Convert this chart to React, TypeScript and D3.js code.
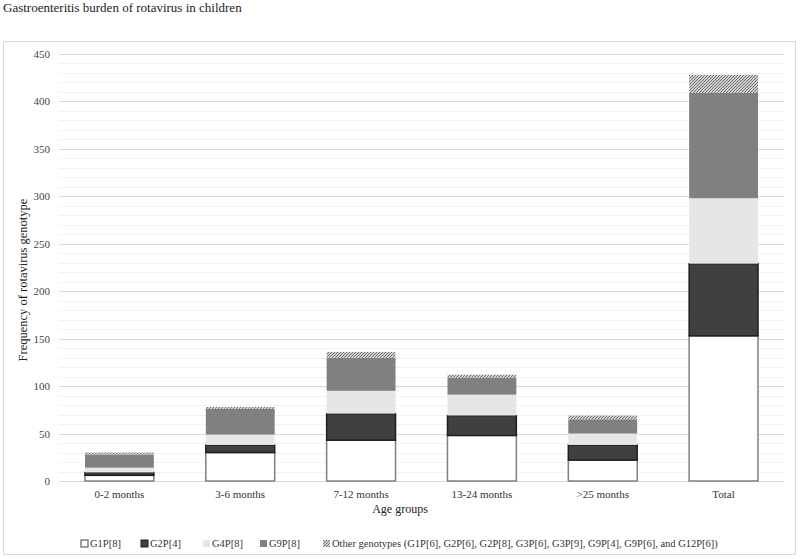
import React, { useEffect, useRef } from 'react';
import * as d3 from 'd3';

const categories = ['0-2 months', '3-6 months', '7-12 months', '13-24 months', '>25 months', 'Total'];
const g1p8 = [6, 30, 43, 48, 22, 153];
const g2p4 = [3, 8, 28, 21, 16, 76];
const g4p8 = [5, 11, 24, 22, 12, 69];
const g9p8 = [14, 27, 35, 18, 15, 111];
const other = [2, 2, 6, 3, 4, 19];
const seriesNames = ['G1P[8]', 'G2P[4]', 'G4P[8]', 'G9P[8]', 'Other genotypes (G1P[6], G2P[6], G2P[8], G3P[6], G3P[9], G9P[4], G9P[6], and G12P[6])'];
const yTicks = [0, 50, 100, 150, 200, 250, 300, 350, 400, 450];

const fills = ['#ffffff', '#404040', '#e6e6e6', '#808080', 'url(#hatch)'];
const strokes = ['#7f7f7f', '#1f1f1f', 'none', 'none', 'none'];
const FONT = '"Liberation Serif", "Times New Roman", serif';

const App: React.FC = () => {
  const svgRef = useRef<SVGSVGElement>(null);

  useEffect(() => {
    if (!svgRef.current) return;
    const svg = d3.select(svgRef.current);
    svg.selectAll('*').remove();

    const margin = { top: 54, right: 16, bottom: 78, left: 59 };
    const width = 800, height = 559;

    const defs = svg.append('defs');
    const pat = defs.append('pattern')
      .attr('id', 'hatch').attr('patternUnits', 'userSpaceOnUse')
      .attr('width', 3).attr('height', 3);
    pat.append('rect').attr('width', 3).attr('height', 3).attr('fill', '#ffffff');
    pat.append('path').attr('d', 'M0,3 L3,0 M-1,1 L1,-1 M2,4 L4,2')
      .attr('stroke', '#6a6a6a').attr('stroke-width', 1.2);

    svg.append('text').attr('x', 3).attr('y', 12)
      .attr('font-family', FONT).attr('font-size', 13).attr('fill', '#222')
      .text('Gastroenteritis burden of rotavirus in children');

    svg.append('rect').attr('x', 3.5).attr('y', 41.5).attr('width', 792).attr('height', 513)
      .attr('fill', '#fff').attr('stroke', '#d9d9d9');

    const x = d3.scaleBand().domain(categories).range([margin.left, width - margin.right]).padding(0);
    const y = d3.scaleLinear().domain([0, 450]).range([height - margin.bottom, margin.top]);

    const g = svg.append('g');
    // minor gridlines
    g.selectAll('.minor').data(d3.range(0, 451, 10).filter(v => v % 50 !== 0)).enter()
      .append('line')
      .attr('x1', margin.left).attr('x2', width - margin.right)
      .attr('y1', d => Math.round(y(d)) + 0.5).attr('y2', d => Math.round(y(d)) + 0.5)
      .attr('stroke', '#f2f2f2');
    g.selectAll('.major').data(yTicks).enter()
      .append('line')
      .attr('x1', margin.left).attr('x2', width - margin.right)
      .attr('y1', d => Math.round(y(d)) + 0.5).attr('y2', d => Math.round(y(d)) + 0.5)
      .attr('stroke', '#d9d9d9');

    g.selectAll('.ytick').data(yTicks).enter()
      .append('text')
      .attr('x', 50).attr('y', d => y(d) + 4)
      .attr('text-anchor', 'end')
      .attr('font-family', FONT).attr('font-size', 11).attr('fill', '#444')
      .text(d => d);

    const rows = categories.map((c, i) => ({
      cat: c, s0: g1p8[i], s1: g2p4[i], s2: g4p8[i], s3: g9p8[i], s4: other[i],
    }));
    const stack = d3.stack<any>().keys(['s0', 's1', 's2', 's3', 's4'])(rows);
    const bw = x.bandwidth() * 0.57;

    stack.forEach((layer, li) => {
      g.selectAll(`.bar${li}`).data(layer).enter()
        .append('rect')
        .attr('x', d => (x(d.data.cat) as number) + x.bandwidth() / 2 - bw / 2)
        .attr('y', d => y(d[1]))
        .attr('width', bw)
        .attr('height', d => y(d[0]) - y(d[1]))
        .attr('fill', fills[li])
        .attr('stroke', strokes[li])
        .attr('stroke-width', 1.5);
    });

    g.selectAll('.xlabel').data(categories).enter()
      .append('text')
      .attr('x', d => (x(d) as number) + x.bandwidth() / 2)
      .attr('y', height - margin.bottom + 17)
      .attr('text-anchor', 'middle')
      .attr('font-family', FONT).attr('font-size', 11).attr('fill', '#333')
      .text(d => d);

    svg.append('text').attr('x', 400).attr('y', 513)
      .attr('text-anchor', 'middle')
      .attr('font-family', FONT).attr('font-size', 12).attr('fill', '#222')
      .text('Age groups');

    svg.append('text')
      .attr('transform', 'translate(27,280) rotate(-90)')
      .attr('text-anchor', 'middle')
      .attr('font-family', FONT).attr('font-size', 12.5).attr('fill', '#222')
      .text('Frequency of rotavirus genotype');

    // legend
    const legendX = [81, 141, 203, 260, 323];
    const leg = svg.append('g');
    seriesNames.forEach((name, i) => {
      leg.append('rect')
        .attr('x', legendX[i]).attr('y', 540).attr('width', 7).attr('height', 7)
        .attr('fill', fills[i])
        .attr('stroke', i === 0 ? '#404040' : i === 1 ? '#1f1f1f' : 'none');
      leg.append('text')
        .attr('x', legendX[i] + 9).attr('y', 547)
        .attr('font-family', FONT).attr('font-size', 10.5).attr('fill', '#333')
        .text(name);
    });
  }, []);

  return (
    <svg ref={svgRef} width={800} height={559}
      style={{ position: 'absolute', left: 0, top: 0, background: '#fff' }} />
  );
};

export default App;
